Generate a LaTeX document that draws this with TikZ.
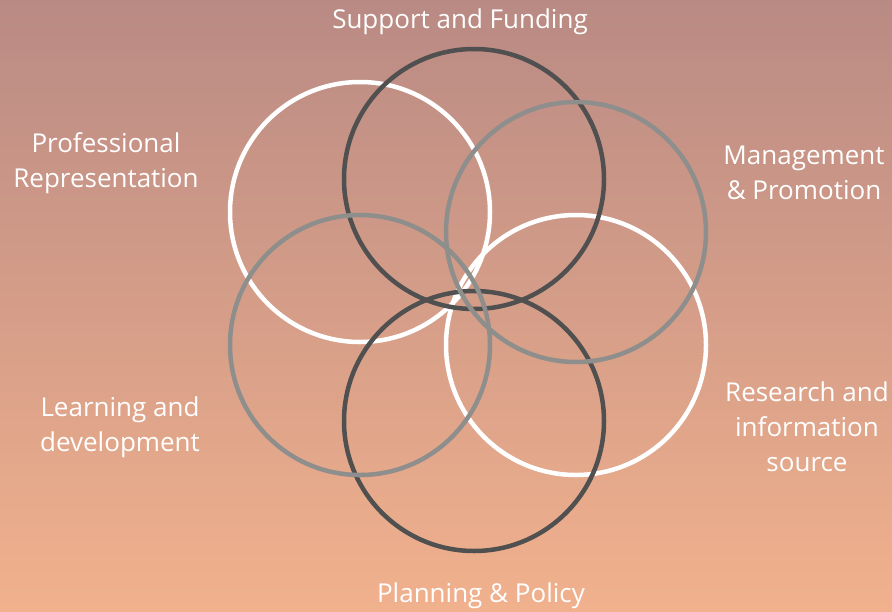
\documentclass[tikz,border=0pt]{standalone}
\usepackage{fontspec}
\setmainfont{Open Sans}
\begin{document}
\begin{tikzpicture}[x=1pt,y=-1pt,
  ring/.style={line width=4.5pt},
  ringwhite/.style={ring,draw=white},
  ringdark/.style={ring,draw=darkring},
  ringgray/.style={ring,draw=grayring},
  lbl/.style={text=white,align=center,font=\fontsize{26}{35}\selectfont,inner sep=0pt}]
\definecolor{darkring}{RGB}{80,80,80}
\definecolor{grayring}{RGB}{142,142,140}
\definecolor{bgtop}{RGB}{185,138,132}
\definecolor{bgbot}{RGB}{241,177,141}
\fill[top color=bgtop,bottom color=bgbot] (0,0) rectangle (892,611);
\useasboundingbox (0,0) rectangle (892,611);
\coordinate (c1) at (360,212);
\coordinate (c2) at (474,179);
\coordinate (c3) at (576,232);
\coordinate (c4) at (576,345);
\coordinate (c5) at (474,421);
\coordinate (c6) at (360,345);
\draw[ringwhite] (c1) circle (130);
\draw[ringwhite] (c4) circle (130);
\draw[ringdark] (c2) circle (130);
\draw[ringdark] (c5) circle (130);
\draw[ringgray] (c3) circle (130);
\draw[ringgray] (c6) circle (130);
\node[lbl] (t1) at (460,22) {Support and Funding};
\node[lbl] (t2) at (106,163) {Professional\\Representation};
\node[lbl] (t3) at (804,173) {Management\\\& Promotion};
\node[lbl] (t4) at (807,427) {Research and\\information\\source};
\node[lbl] (t5) at (120,427) {Learning and\\development};
\node[lbl] (t6) at (481,596) {Planning \& Policy};
\end{tikzpicture}
\end{document}
